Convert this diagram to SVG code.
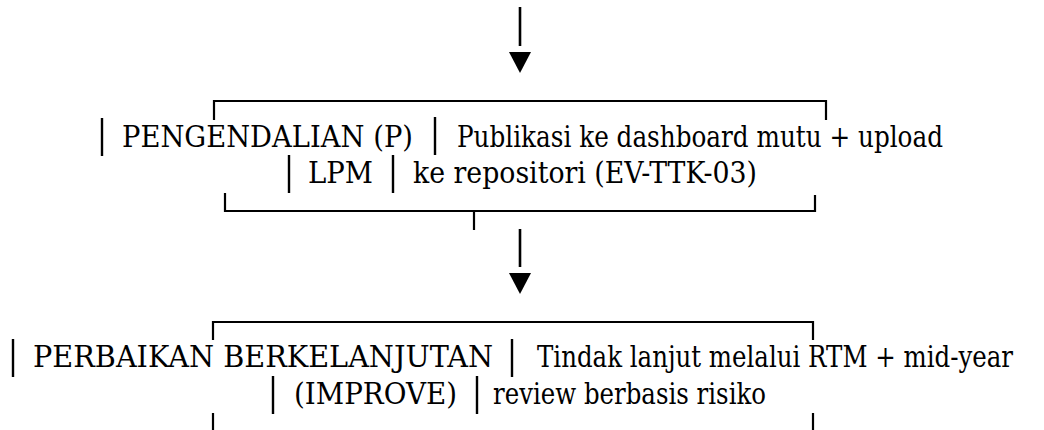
<svg xmlns="http://www.w3.org/2000/svg" width="1044" height="430" viewBox="0 0 1044 430">
  <style>
    text { font-family: 'DejaVu Serif', 'Liberation Serif', serif; font-size: 29px; fill: #000; }
    .b { stroke: #000; stroke-width: 2.2; fill: none; }
    .bar { stroke: #000; stroke-width: 2.4; }
    .ar { stroke: #000; stroke-width: 2.6; }
  </style>
  <rect width="1044" height="430" fill="#fff"/>
  <g id="connectors">
    <line class="ar" x1="520" y1="7" x2="520" y2="46"/>
    <polygon points="509,52 531,52 520,73" fill="#000"/>
    <line class="ar" x1="520" y1="229" x2="520" y2="267"/>
    <polygon points="509,273 531,273 520,294" fill="#000"/>
  </g>
  <g id="node-pengendalian">
    <path class="b" d="M214,120 V101 H826 V120"/>
    <path class="b" d="M225,193 V211 H815 V195 M474,211 V230"/>
    <line class="bar" x1="102" y1="118" x2="102" y2="156"/>
    <line class="bar" x1="435" y1="117" x2="435" y2="155"/>
    <line class="bar" x1="289" y1="155" x2="289" y2="193"/>
    <line class="bar" x1="393" y1="155" x2="393" y2="193"/>
    <text x="122" y="147" textLength="291" lengthAdjust="spacingAndGlyphs">PENGENDALIAN (P)</text>
    <text x="457" y="147" textLength="486" lengthAdjust="spacingAndGlyphs">Publikasi ke dashboard mutu + upload</text>
    <text x="308" y="183" textLength="65" lengthAdjust="spacingAndGlyphs">LPM</text>
    <text x="413" y="183" textLength="344" lengthAdjust="spacingAndGlyphs">ke repositori (EV-TTK-03)</text>
  </g>
  <g id="node-perbaikan">
    <path class="b" d="M213,340 V322 H813 V340"/>
    <path class="b" d="M213,413 V430 M813,413 V430"/>
    <line class="bar" x1="13" y1="339" x2="13" y2="377"/>
    <line class="bar" x1="512" y1="339" x2="512" y2="377"/>
    <line class="bar" x1="273" y1="376" x2="273" y2="414"/>
    <line class="bar" x1="477" y1="376" x2="477" y2="414"/>
    <text x="33" y="367" textLength="460" lengthAdjust="spacingAndGlyphs">PERBAIKAN BERKELANJUTAN</text>
    <text x="537" y="367" textLength="476" lengthAdjust="spacingAndGlyphs">Tindak lanjut melalui RTM + mid-year</text>
    <text x="294" y="404" textLength="163" lengthAdjust="spacingAndGlyphs">(IMPROVE)</text>
    <text x="493" y="404" textLength="273" lengthAdjust="spacingAndGlyphs">review berbasis risiko</text>
  </g>
</svg>
